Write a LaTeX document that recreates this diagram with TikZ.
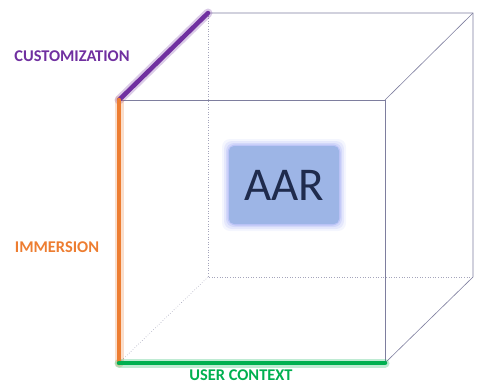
\documentclass[tikz,border=0pt]{standalone}
\usepackage{fontspec}
\setmainfont{Carlito}
\usepackage{tikz}
\usetikzlibrary{calc}
\definecolor{edgegray}{HTML}{7E7E9E}
\definecolor{custpurple}{HTML}{7030A0}
\definecolor{immorange}{HTML}{ED7D31}
\definecolor{ctxgreen}{HTML}{00B050}
\definecolor{aarblue}{HTML}{9DB5E6}
\definecolor{aartext}{HTML}{1F2B4D}
\tikzset{
	edge/.style={line width=0.6pt, color=edgegray},
	hidden/.style={line width=0.6pt, color=edgegray!70, dotted},
	axis/.style={line width=4.5pt, line cap=round},
	glow/.style={line width=9pt, line cap=round, opacity=0.25},
	axislabel/.style={font=\bfseries\fontsize{16.4}{18}\selectfont}
}
\begin{document}
\begin{tikzpicture}[x=1pt, y=-1pt]
			%%%%% START %%%%%
			\useasboundingbox (0,0) rectangle (477,383);
			
			% corners of the box
			\coordinate (ftl) at (119,100);
			\coordinate (ftr) at (385,100);
			\coordinate (fbl) at (119,363);
			\coordinate (fbr) at (385,363);
			\coordinate (btl) at (208,13);
			\coordinate (btr) at (473,13);
			\coordinate (bbl) at (208,277);
			\coordinate (bbr) at (473,277);
			
			% hidden edges
			\draw[hidden] (btl) -- (bbl) -- (bbr);
			\draw[hidden] (bbl) -- (fbl);
			
			% visible edges
			\draw[edge] (ftl) rectangle (fbr);
			\draw[edge] (btl) -- (btr) -- (bbr) -- (fbr);
			\draw[edge] (btr) -- (ftr);
			
			% soft box in the middle
			\foreach \grow/\op in {7/0.12, 5/0.2, 3/0.3, 1.5/0.5}{
				\fill[aarblue!70!blue!60, opacity=\op, rounded corners=8pt] ($(229,146)-(\grow,\grow)$) rectangle ($(339,224)+(\grow,\grow)$);
			}
			\node[fill=aarblue, rounded corners=5pt, minimum width=110pt, minimum height=78pt, inner sep=0pt,
				text=aartext, font=\fontsize{47}{50}\selectfont] (aar) at (284,185) {AAR};
			
			% the three axes
			\draw[glow, custpurple] (ftl) -- (btl);
			\draw[glow, immorange] (ftl) -- (fbl);
			\draw[glow, ctxgreen] (fbl) -- (fbr);
			\draw[axis, custpurple] (ftl) -- (btl);
			\draw[axis, immorange] (ftl) -- (fbl);
			\draw[axis, ctxgreen] (fbl) -- (fbr);
			
			\node[axislabel, text=custpurple] (cust) at (72,56) {CUSTOMIZATION};
			\node[axislabel, text=immorange] (imm) at (57,247) {IMMERSION};
			\node[axislabel, text=ctxgreen, anchor=base, inner sep=0pt] (ctx) at (241,380) {USER CONTEXT};
			
			%%%%% END %%%%%
		\end{tikzpicture}
\end{document}
